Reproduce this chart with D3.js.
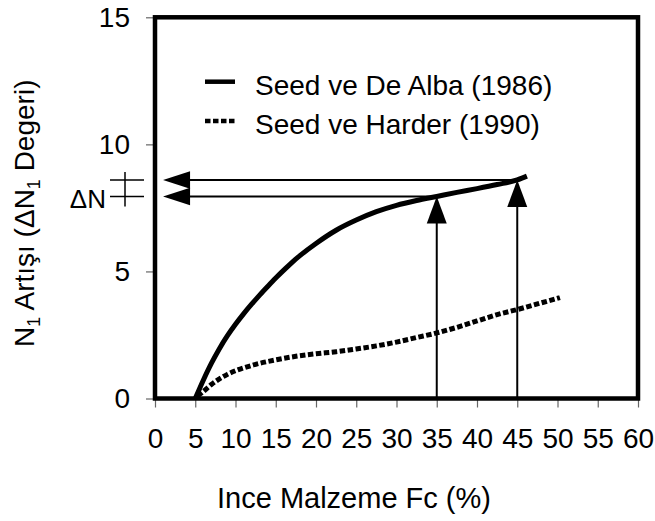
<!DOCTYPE html>
<html>
<head>
<meta charset="utf-8">
<script src="https://cdn.jsdelivr.net/npm/d3@7"></script>
<style>
  html, body { margin: 0; padding: 0; background: #fff; }
  svg { display: block; font-family: "Liberation Sans", Arial, sans-serif; }
</style>
</head>
<body>
<svg id="chart" width="655" height="521"></svg>
<script>
// Fines content (%) vs. increase in N1 — two published correction curves
const deAlbaFc = [5, 6, 7, 8, 9, 10, 11, 12, 13, 14, 15, 16, 17, 18, 20, 22.5, 25, 27.5, 30, 32.5, 35, 37.5, 40, 42.5, 45, 46.2];
const deAlbaN  = [0, 0.72, 1.38, 1.96, 2.47, 2.92, 3.33, 3.71, 4.07, 4.41, 4.74, 5.05, 5.35, 5.62, 6.1, 6.62, 7.02, 7.35, 7.6, 7.79, 7.95, 8.11, 8.26, 8.42, 8.6, 8.75];

const harderFc = [5.3, 5.8, 7, 9, 12, 15, 17.5, 20, 22.5, 25, 27.5, 30, 32.5, 35, 37.5, 40, 42.5, 45, 47.5, 50.3];
const harderN  = [0.1, 0.22, 0.55, 0.95, 1.3, 1.52, 1.66, 1.76, 1.84, 1.95, 2.07, 2.22, 2.4, 2.58, 2.8, 3.05, 3.3, 3.5, 3.72, 3.97];

const xTicks = [0, 5, 10, 15, 20, 25, 30, 35, 40, 45, 50, 55, 60];
const yTicks = [0, 5, 10, 15];

const seriesNames = ["Seed ve De Alba (1986)", "Seed ve Harder (1990)"];

const readFc = [35, 45];
const arrowStopFc = 1;

const svg = d3.select("#chart");
const x = d3.scaleLinear().domain([0, 60]).range([155, 638]);
const y = d3.scaleLinear().domain([0, 15]).range([398.5, 17.3]);

const tickColor = "#666";

// axes (ticks + labels only; the frame is drawn separately)
const xAxis = svg.append("g")
  .attr("transform", `translate(0,${y(0)})`)
  .call(d3.axisBottom(x).tickValues(xTicks).tickSize(9).tickPadding(21).tickFormat(d3.format("d")));
xAxis.select(".domain").remove();
xAxis.selectAll(".tick line").attr("stroke", tickColor).attr("stroke-width", 1.2);
xAxis.selectAll(".tick text").attr("font-size", 28).attr("fill", "#000")
  .attr("font-family", "Liberation Sans, Arial, sans-serif");

const yAxis = svg.append("g")
  .attr("transform", `translate(${x(0)},0)`)
  .call(d3.axisLeft(y).tickValues(yTicks).tickSize(9).tickPadding(16).tickFormat(d3.format("d")));
yAxis.select(".domain").remove();
yAxis.selectAll(".tick line").attr("stroke", tickColor).attr("stroke-width", 1.2);
yAxis.selectAll(".tick text").attr("font-size", 28).attr("fill", "#000")
  .attr("font-family", "Liberation Sans, Arial, sans-serif");

// plot frame
svg.append("rect")
  .attr("x", x(0)).attr("y", y(15))
  .attr("width", x(60) - x(0)).attr("height", y(0) - y(15))
  .attr("fill", "none").attr("stroke", "#000").attr("stroke-width", 4.5);

const line = d3.line().x(d => x(d[0])).y(d => y(d[1])).curve(d3.curveMonotoneX);
const deAlba = deAlbaFc.map((v, i) => [v, deAlbaN[i]]);
const harder = harderFc.map((v, i) => [v, harderN[i]]);

svg.append("path").datum(harder).attr("d", line)
  .attr("fill", "none").attr("stroke", "#000").attr("stroke-width", 5)
  .attr("stroke-dasharray", "5.5,2.5");

svg.append("path").datum(deAlba).attr("d", line)
  .attr("fill", "none").attr("stroke", "#000").attr("stroke-width", 5)
  .attr("stroke-linecap", "butt");

// arrows: up from the axis to the curve, then across to the N axis
const nAt = fc => deAlbaN[deAlbaFc.indexOf(fc)];
const g = svg.append("g");
readFc.forEach(fc => {
  const px = x(fc), py = y(nAt(fc));
  // vertical
  g.append("line").attr("x1", px).attr("x2", px).attr("y1", y(0)).attr("y2", py + 20)
    .attr("stroke", "#000").attr("stroke-width", 2);
  g.append("path")
    .attr("d", `M${px},${py} L${px - 10},${py + 27} L${px + 10},${py + 27} Z`)
    .attr("fill", "#000");
  // horizontal
  const tx = x(arrowStopFc);
  g.append("line").attr("x1", tx + 20).attr("x2", px).attr("y1", py).attr("y2", py)
    .attr("stroke", "#000").attr("stroke-width", 2);
  g.append("path")
    .attr("d", `M${tx},${py} L${tx + 27},${py - 8.7} L${tx + 27},${py + 8.7} Z`)
    .attr("fill", "#000");
});

// ΔN marker on the left of the axis
const yHi = y(nAt(45)), yLo = y(nAt(35));
g.append("line").attr("x1", 110).attr("x2", 144).attr("y1", yHi).attr("y2", yHi)
  .attr("stroke", "#000").attr("stroke-width", 1.5);
g.append("line").attr("x1", 110).attr("x2", 144).attr("y1", yLo).attr("y2", yLo)
  .attr("stroke", "#000").attr("stroke-width", 1.5);
g.append("line").attr("x1", 125).attr("x2", 125).attr("y1", yHi - 8).attr("y2", yLo + 10)
  .attr("stroke", "#000").attr("stroke-width", 1.5);
svg.append("text").attr("x", 106).attr("y", 208).attr("text-anchor", "end")
  .attr("font-size", 26).text("ΔN");

// legend
const legend = svg.append("g");
legend.append("line").attr("x1", 205).attr("x2", 235).attr("y1", 81.7).attr("y2", 81.7)
  .attr("stroke", "#000").attr("stroke-width", 4.5);
legend.append("line").attr("x1", 205).attr("x2", 236).attr("y1", 121).attr("y2", 121)
  .attr("stroke", "#000").attr("stroke-width", 4.5).attr("stroke-dasharray", "5.5,2.5");
legend.append("text").attr("x", 255).attr("y", 95).attr("font-size", 28).text(seriesNames[0]);
legend.append("text").attr("x", 255).attr("y", 133.5).attr("font-size", 28).text(seriesNames[1]);

// axis titles
svg.append("text").attr("x", 354).attr("y", 507.5).attr("text-anchor", "middle")
  .attr("font-size", 29).text("Ince Malzeme Fc (%)");

const yt = svg.append("text")
  .attr("transform", "translate(34,347) rotate(-90)")
  .attr("font-size", 28);
yt.append("tspan").text("N");
yt.append("tspan").attr("font-size", 18).attr("dy", 6).text("1");
yt.append("tspan").attr("dy", -6).text(" Artışı (ΔN");
yt.append("tspan").attr("font-size", 18).attr("dy", 6).text("1");
yt.append("tspan").attr("dy", -6).text(" Degeri)");
</script>
</body>
</html>
